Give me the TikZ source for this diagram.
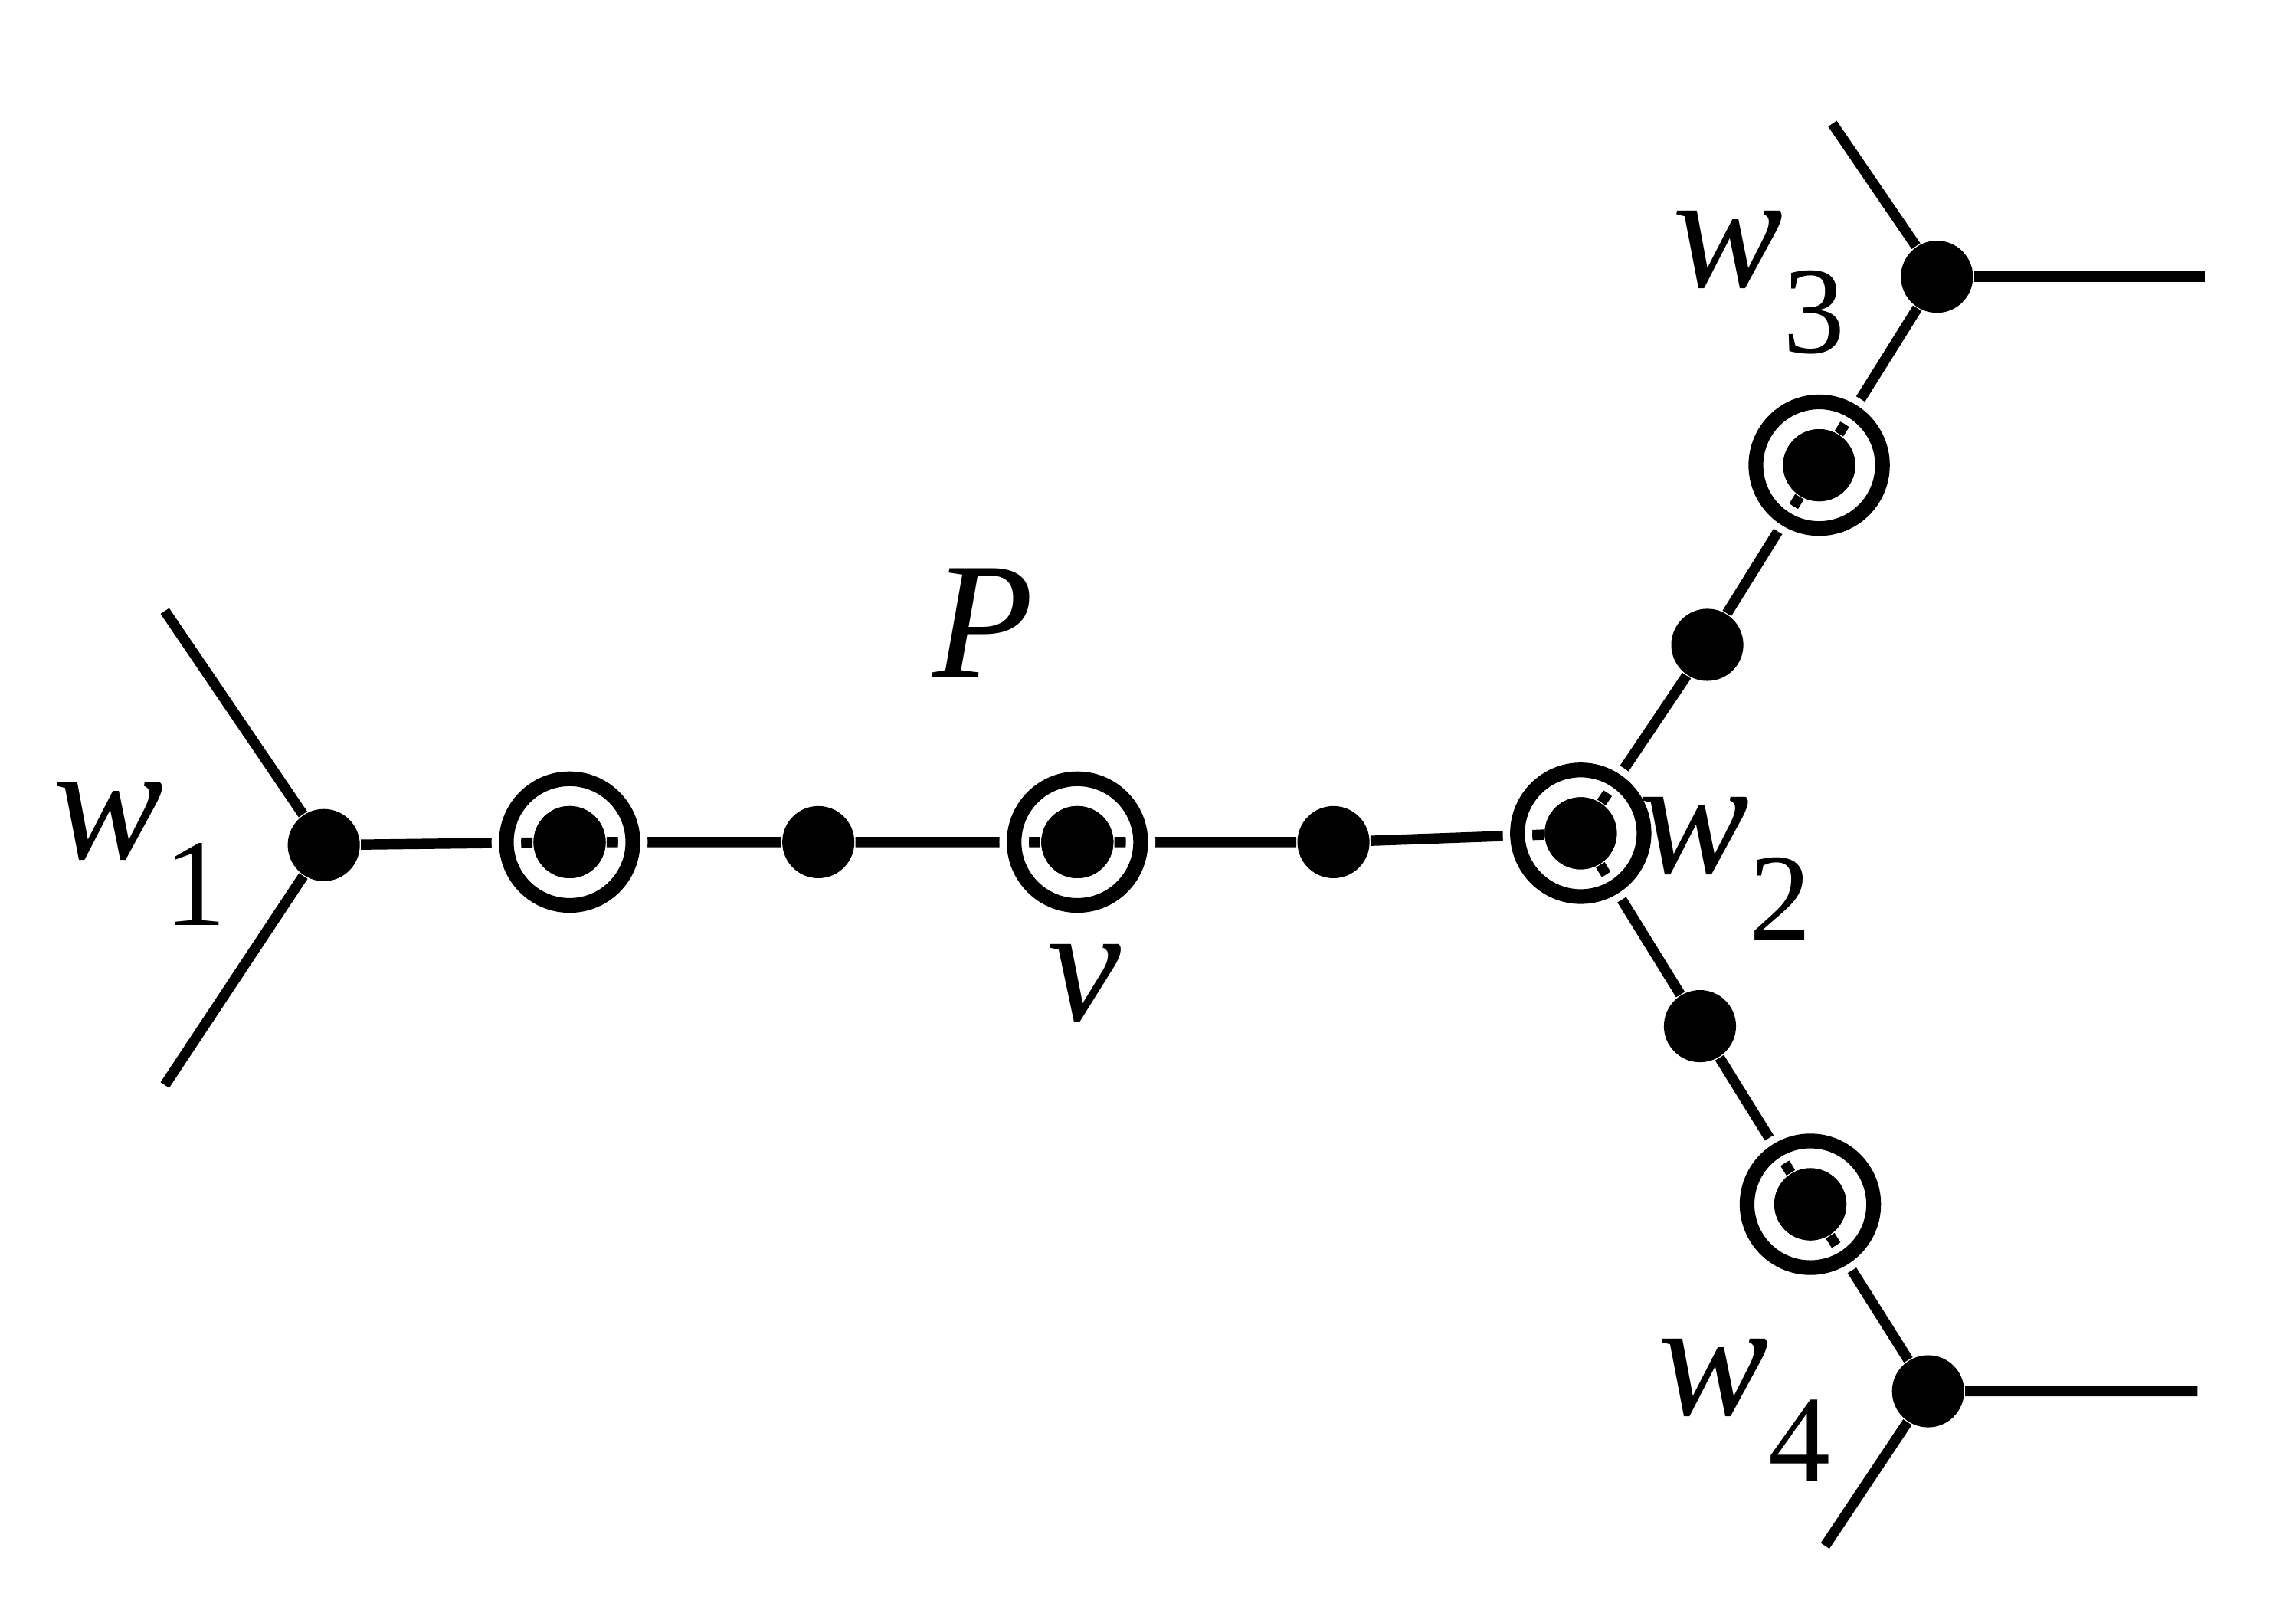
\documentclass[tikz,border=0pt]{standalone}
\usepackage{fontspec}
\setmainfont{Liberation Serif}
\newcommand{\vlab}[2]{{\itshape #1}\raisebox{-0.4em}{\fontsize{24}{24}\selectfont #2}}
\begin{document}
\begin{tikzpicture}[
    edge/.style={line width=0.07cm},
    dot/.style={circle, fill=black, inner sep=0pt, minimum size=0.49cm},
    every node/.style={font=\fontsize{32}{36}\selectfont}
]
\useasboundingbox (0,0) rectangle (15.6,-11.0);

% Vertices
\node[dot] (w1) at (2.20,-5.74) {};
\node[dot] (a1) at (3.87,-5.72) {};
\node[dot] (a2) at (5.56,-5.72) {};
\node[dot] (v)  at (7.32,-5.72) {};
\node[dot] (a3) at (9.06,-5.72) {};
\node[dot] (w2) at (10.74,-5.66) {};
\node[dot] (b1) at (11.60,-4.38) {};
\node[dot] (b2) at (12.36,-3.16) {};
\node[dot] (w3) at (13.16,-1.88) {};
\node[dot] (c1) at (11.55,-6.97) {};
\node[dot] (c2) at (12.30,-8.18) {};
\node[dot] (w4) at (13.10,-9.45) {};

% Free ends
\coordinate (e1) at (1.12,-4.15);
\coordinate (e2) at (1.12,-7.37);
\coordinate (e3) at (12.45,-0.84);
\coordinate (e4) at (14.98,-1.88);
\coordinate (e5) at (14.93,-9.45);
\coordinate (e6) at (12.40,-10.50);

% Edges
\draw[edge] (e1) -- (w1) -- (e2);
\draw[edge] (w1) -- (a1) -- (a2) -- (v) -- (a3) -- (w2);
\draw[edge] (w2) -- (b1) -- (b2) -- (w3) -- (e3);
\draw[edge] (w3) -- (e4);
\draw[edge] (w2) -- (c1) -- (c2) -- (w4) -- (e5);
\draw[edge] (w4) -- (e6);

% Rings
\foreach \r in {a1,v,w2,b2,c2} {
  \draw[white, line width=0.2cm] (\r) circle (0.43);
  \draw[black, line width=0.1cm] (\r) circle (0.43);
  \node[dot] at (\r) {};
}

% Labels
\node (lw1) at (0.95,-5.80) {\vlab{w}{1}};
\node (lp)  at (6.68,-4.23) {\itshape P};
\node (lv)  at (7.37,-6.68) {\itshape v};
\node (lw2) at (11.72,-5.90) {\vlab{w}{2}};
\node (lw3) at (11.95,-1.92) {\vlab{w}{3}};
\node (lw4) at (11.85,-9.58) {\vlab{w}{4}};
\end{tikzpicture}
\end{document}
